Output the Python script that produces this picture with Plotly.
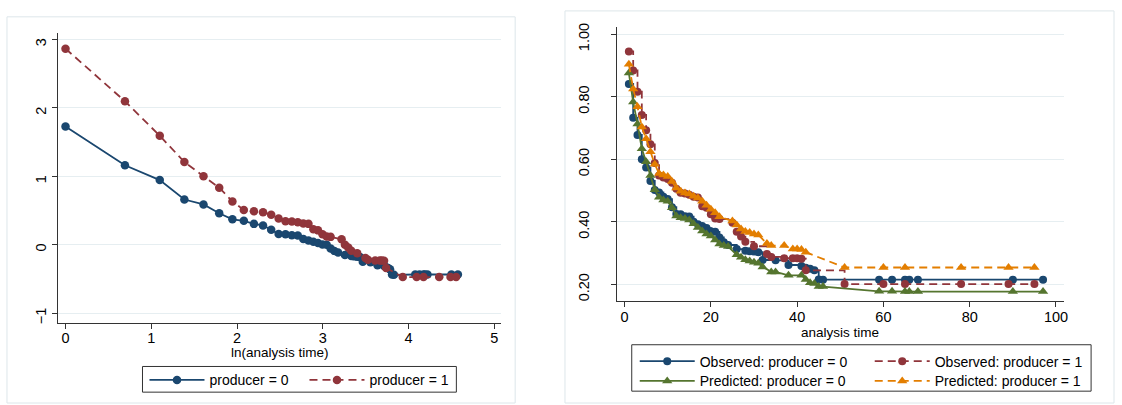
import plotly.graph_objects as go

# ---------------- data ----------------
# Left panel: -ln(-ln S) vs ln(analysis time)
LN_T0 = [0.000, 0.693, 1.099, 1.386, 1.609, 1.792, 1.946, 2.079, 2.197, 2.303, 2.398, 2.485,
         2.565, 2.639, 2.708, 2.773, 2.833, 2.890, 2.944, 2.996, 3.045, 3.091, 3.135, 3.178,
         3.258, 3.332, 3.367, 3.401, 3.434, 3.466, 3.555, 3.638, 3.714, 3.738, 3.761, 3.784,
         3.807, 3.829, 4.078, 4.127, 4.174, 4.190, 4.220, 4.500, 4.575]
LL0 = [1.727, 1.161, 0.945, 0.661, 0.589, 0.460, 0.372, 0.350, 0.305, 0.283, 0.218, 0.156,
       0.155, 0.140, 0.135, 0.085, 0.062, 0.045, 0.025, 0.005, 0.000, -0.055, -0.090, -0.115,
       -0.150, -0.165, -0.170, -0.175, -0.178, -0.250, -0.255, -0.300, -0.310, -0.330, -0.340,
       -0.360, -0.435, -0.440, -0.435, -0.435, -0.435, -0.435, -0.435, -0.435, -0.435]

LN_T1 = [0.000, 0.693, 1.099, 1.386, 1.609, 1.792, 1.946, 2.079, 2.197, 2.303, 2.398, 2.485,
         2.565, 2.639, 2.708, 2.773, 2.833, 2.890, 2.944, 2.996, 3.045, 3.091, 3.219, 3.258,
         3.296, 3.332, 3.401, 3.497, 3.526, 3.611, 3.664, 3.689, 3.714, 3.738, 3.932, 4.094,
         4.174, 4.357, 4.489, 4.554]
LL1 = [2.866, 2.097, 1.593, 1.209, 1.002, 0.834, 0.633, 0.508, 0.489, 0.474, 0.440, 0.383,
       0.345, 0.340, 0.330, 0.310, 0.305, 0.225, 0.210, 0.152, 0.119, 0.115, 0.080, 0.000,
       -0.040, -0.088, -0.126, -0.193, -0.220, -0.230, -0.230, -0.230, -0.235, -0.340, -0.472,
       -0.472, -0.472, -0.472, -0.472, -0.472]

# Right panel: survival probabilities vs analysis time
T_OBS0 = [1, 2, 3, 4, 5, 6, 7, 8, 9, 10, 11, 12, 13, 14, 15, 16, 17, 18, 19, 20, 21, 22, 23, 24,
          26, 28, 29, 30, 31, 32, 35, 38, 41, 42, 43, 44, 45, 46, 59, 62, 65, 66, 68, 90, 97]
S_OBS0 = [0.841, 0.733, 0.678, 0.600, 0.574, 0.531, 0.502, 0.494, 0.480, 0.473, 0.447, 0.425,
          0.424, 0.418, 0.417, 0.400, 0.392, 0.387, 0.380, 0.370, 0.368, 0.350, 0.335, 0.326,
          0.313, 0.308, 0.306, 0.305, 0.303, 0.278, 0.277, 0.262, 0.259, 0.253, 0.250, 0.245,
          0.216, 0.215, 0.215, 0.215, 0.215, 0.215, 0.215, 0.215, 0.215]

T_OBS1 = [1, 2, 3, 4, 5, 6, 7, 8, 9, 10, 11, 12, 13, 14, 15, 16, 17, 18, 19, 20, 21, 22, 25, 26,
          27, 28, 30, 33, 34, 37, 39, 40, 41, 42, 51, 60, 65, 78, 89, 95]
S_OBS1 = [0.945, 0.884, 0.816, 0.742, 0.693, 0.648, 0.588, 0.548, 0.542, 0.537, 0.525, 0.506,
          0.493, 0.491, 0.487, 0.480, 0.478, 0.450, 0.445, 0.424, 0.411, 0.409, 0.397, 0.368,
          0.353, 0.336, 0.322, 0.297, 0.288, 0.284, 0.284, 0.284, 0.282, 0.245, 0.201, 0.201,
          0.201, 0.201, 0.201, 0.201]

T_PRED0 = [1, 2, 3, 4, 5, 6, 7, 8, 9, 10, 11, 12, 13, 14, 15, 16, 17, 18, 19, 20, 21, 22, 23, 24,
           26, 27, 28, 29, 30, 31, 32, 34, 35, 38, 41, 42, 43, 44, 45, 46, 59, 62, 65, 66, 68, 90, 97]
S_PRED0 = [0.876, 0.783, 0.713, 0.634, 0.592, 0.548, 0.503, 0.479, 0.470, 0.466, 0.445, 0.419,
           0.413, 0.411, 0.406, 0.394, 0.382, 0.371, 0.361, 0.355, 0.342, 0.329, 0.324, 0.321,
           0.295, 0.287, 0.279, 0.275, 0.271, 0.268, 0.256, 0.240, 0.240, 0.229, 0.229, 0.216,
           0.205, 0.203, 0.193, 0.193, 0.178, 0.178, 0.177, 0.177, 0.177, 0.177, 0.177]

T_PRED1 = [1, 2, 3, 4, 5, 6, 7, 8, 9, 10, 11, 12, 13, 14, 15, 16, 17, 18, 19, 20, 21, 22, 25, 26,
           27, 28, 29, 30, 31, 33, 34, 37, 39, 40, 41, 42, 51, 60, 65, 78, 89, 95]
S_PRED1 = [0.904, 0.825, 0.768, 0.703, 0.666, 0.624, 0.584, 0.555, 0.550, 0.545, 0.529, 0.508,
           0.498, 0.492, 0.489, 0.482, 0.476, 0.466, 0.453, 0.440, 0.429, 0.416, 0.403, 0.390,
           0.377, 0.369, 0.366, 0.361, 0.358, 0.331, 0.324, 0.324, 0.313, 0.313, 0.312, 0.303,
           0.254, 0.254, 0.254, 0.254, 0.254, 0.254]

LEFT_XTICKS = [0, 1, 2, 3, 4, 5]
LEFT_YTICKS = [-1, 0, 1, 2, 3]
RIGHT_XTICKS = [0, 20, 40, 60, 80, 100]
RIGHT_YTICKS = [0.2, 0.4, 0.6, 0.8, 1.0]

# ---------------- style ----------------
W, H = 1122, 405
NAVY = "#1a476f"
MAROON = "#90353b"
GREEN = "#55752f"
ORANGE = "#e37e00"
AXC = "#333333"
GRID = "#e6eef1"
FRAME = "#dde6ea"
FONT = "Liberation Sans, Arial, sans-serif"
DASH = "8px,5px"
LW = 1.8


def fx(p):
    return p / W


def fy(p):
    return 1 - p / H


fig = go.Figure()

fig.add_trace(go.Scatter(x=LN_T0, y=LL0, mode="lines+markers", name="producer = 0",
                         line=dict(color=NAVY, width=LW), marker=dict(color=NAVY, size=8.5),
                         xaxis="x", yaxis="y", legend="legend"))
fig.add_trace(go.Scatter(x=LN_T1, y=LL1, mode="lines+markers", name="producer = 1",
                         line=dict(color=MAROON, width=LW, dash=DASH), marker=dict(color=MAROON, size=8.5),
                         xaxis="x", yaxis="y", legend="legend"))

fig.add_trace(go.Scatter(x=T_OBS0, y=S_OBS0, mode="lines+markers", name="Observed: producer = 0",
                         line=dict(color=NAVY, width=LW, shape="hv"), marker=dict(color=NAVY, size=8),
                         xaxis="x2", yaxis="y2", legend="legend2"))
fig.add_trace(go.Scatter(x=T_OBS1, y=S_OBS1, mode="lines+markers", name="Observed: producer = 1",
                         line=dict(color=MAROON, width=LW, shape="hv", dash=DASH),
                         marker=dict(color=MAROON, size=8),
                         xaxis="x2", yaxis="y2", legend="legend2"))
fig.add_trace(go.Scatter(x=T_PRED0, y=S_PRED0, mode="lines+markers", name="Predicted: producer = 0",
                         line=dict(color=GREEN, width=LW),
                         marker=dict(color=GREEN, size=9, symbol="triangle-up"),
                         xaxis="x2", yaxis="y2", legend="legend3"))
fig.add_trace(go.Scatter(x=T_PRED1, y=S_PRED1, mode="lines+markers", name="Predicted: producer = 1",
                         line=dict(color=ORANGE, width=LW, dash=DASH),
                         marker=dict(color=ORANGE, size=9, symbol="triangle-up"),
                         xaxis="x2", yaxis="y2", legend="legend3"))

axis_common = dict(showline=True, linecolor=AXC, linewidth=1, ticks="outside", ticklen=5,
                   tickcolor=AXC, tickwidth=1, zeroline=False, mirror=False,
                   tickfont=dict(family=FONT, size=14.5, color="black"))

legend_common = dict(orientation="h", xanchor="left", yanchor="middle", bgcolor="rgba(0,0,0,0)",
                     borderwidth=0, itemwidth=55, font=dict(family=FONT, size=14, color="black"),
                     tracegroupgap=0)

fig.update_layout(
    width=W, height=H, autosize=False,
    margin=dict(l=0, r=0, t=0, b=0, pad=0),
    paper_bgcolor="white", plot_bgcolor="white",
    font=dict(family=FONT, size=13, color="black"),
    showlegend=True,
    xaxis=dict(domain=[fx(58), fx(503)], range=[-0.09, 5.08], tickvals=LEFT_XTICKS,
               showgrid=False, anchor="y", ticklabelstandoff=-3, **axis_common),
    yaxis=dict(domain=[fy(323), fy(29)], range=[-1.144, 3.10], tickvals=LEFT_YTICKS,
               showgrid=True, gridcolor=GRID, gridwidth=1, tickangle=-90, anchor="x",
               ticklabelshift=5, **axis_common),
    xaxis2=dict(domain=[fx(619), fx(1068)], range=[-1.8, 101.9], tickvals=RIGHT_XTICKS,
                showgrid=False, anchor="y2", ticklabelstandoff=-3, **axis_common),
    yaxis2=dict(domain=[fy(301), fy(23)], range=[0.146, 1.024], tickvals=RIGHT_YTICKS,
                tickformat=".2f", showgrid=True, gridcolor=GRID, gridwidth=1, tickangle=-90,
                anchor="x2", ticklabelstandoff=16, ticklabelshift=5, **axis_common),
    legend=dict(x=fx(145), y=fy(381), entrywidth=90, **legend_common),
    legend2=dict(x=fx(637), y=fy(362), entrywidth=165, **legend_common),
    legend3=dict(x=fx(637), y=fy(382), entrywidth=165, **legend_common),
)

shapes = [
    # panel frames
    dict(type="rect", xref="paper", yref="paper", x0=fx(7), x1=fx(517), y0=fy(404), y1=fy(13),
         line=dict(color=FRAME, width=1), fillcolor="rgba(0,0,0,0)", layer="below"),
    dict(type="rect", xref="paper", yref="paper", x0=fx(567), x1=fx(1118), y0=fy(404), y1=fy(7),
         line=dict(color=FRAME, width=1), fillcolor="rgba(0,0,0,0)", layer="below"),
    # legend boxes
    dict(type="rect", xref="paper", yref="paper", x0=fx(143), x1=fx(458), y0=fy(393), y1=fy(367),
         line=dict(color=AXC, width=1), fillcolor="rgba(0,0,0,0)"),
    dict(type="rect", xref="paper", yref="paper", x0=fx(634), x1=fx(1095), y0=fy(392), y1=fy(345),
         line=dict(color=AXC, width=1), fillcolor="rgba(0,0,0,0)"),
]
fig.update_layout(shapes=shapes)

fig.add_annotation(text="ln(analysis time)", xref="paper", yref="paper", x=fx(280.5), y=fy(353),
                   xanchor="center", yanchor="middle", showarrow=False,
                   font=dict(family=FONT, size=13.5, color="black"))
fig.add_annotation(text="analysis time", xref="paper", yref="paper", x=fx(843.5), y=fy(333),
                   xanchor="center", yanchor="middle", showarrow=False,
                   font=dict(family=FONT, size=13.5, color="black"))

fig.write_html("out.html")
